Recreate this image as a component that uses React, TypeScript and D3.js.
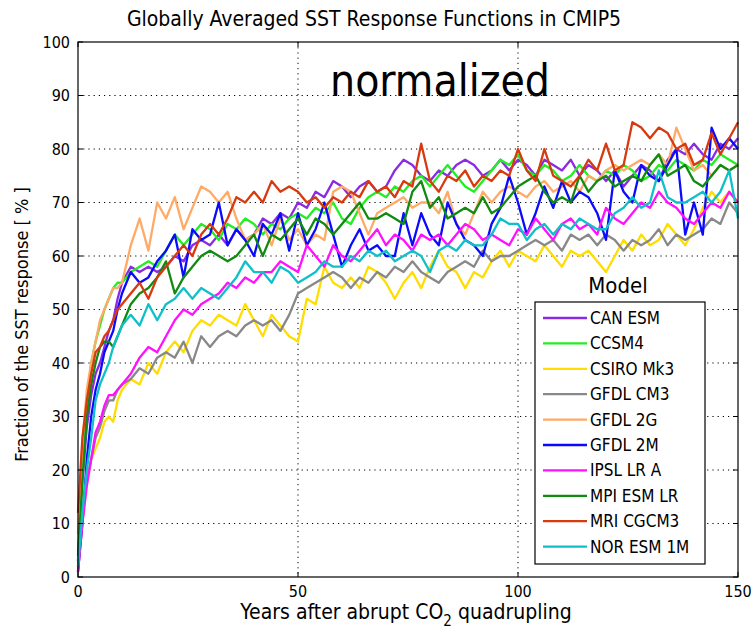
import React from "react";
import * as d3 from "d3";

const years: number[] = [0,1,2,3,4,5,6,7,8,9,10,12,14,16,18,20,22,24,26,28,30,32,34,36,38,40,42,44,46,48,50,52,54,56,58,60,62,64,66,68,70,72,74,76,78,80,82,84,86,88,90,92,94,96,98,100,102,104,106,108,110,112,114,116,118,120,122,124,126,128,130,132,134,136,138,140,142,144,146,148,150];

const models: string[] = ["CAN ESM","CCSM4","CSIRO Mk3","GFDL CM3","GFDL 2G","GFDL 2M","IPSL LR A","MPI ESM LR","MRI CGCM3","NOR ESM 1M"];
const colors: string[] = ["#8a2be2","#22ee22","#ffdd00","#888888","#ffaa66","#0a0aff","#ff10ff","#108a10","#d83a10","#10c0c8"];

const canEsm = [3,18,28,34,38,40,43,46,48,52,55,58,57,58,57,58,60,59,62,63,62,64,62,65,63,64,67,66,68,67,70,69,72,71,74,73,71,73,74,72,73,76,78,77,75,74,76,75,77,78,77,75,76,78,76,78,77,75,78,77,76,78,75,77,76,74,76,73,75,77,76,74,78,80,79,81,79,78,81,80,82];
const ccsm4 = [3,20,32,40,44,47,50,52,54,55,55,57,58,59,58,61,64,62,64,66,65,63,66,65,67,66,64,66,65,67,68,67,69,68,70,67,66,69,71,72,71,73,72,74,75,73,75,77,75,73,72,74,76,78,77,79,76,75,77,76,74,75,77,75,74,76,75,77,76,74,75,77,76,78,77,76,78,77,79,78,77];
const csiroMk3 = [2,10,18,22,24,26,29,30,29,33,35,37,36,40,38,42,44,42,46,48,47,49,48,47,51,48,45,49,47,45,44,52,51,58,55,54,56,54,58,57,55,52,55,57,54,58,61,58,57,54,57,56,59,61,58,61,60,59,62,60,58,61,60,61,59,57,60,63,61,64,62,63,66,64,62,65,69,72,70,72,70];
const gfdlCm3 = [1,12,18,22,26,28,31,33,33,35,36,37,39,38,41,42,41,44,40,45,43,45,46,45,47,48,47,48,46,49,53,54,55,56,57,56,54,56,55,57,56,58,57,59,57,56,55,57,58,59,58,61,59,60,60,61,62,63,62,63,61,64,63,64,62,64,63,61,63,62,63,65,62,64,63,64,65,67,66,70,68];
const gfdl2g = [8,25,35,40,44,48,50,52,54,54,55,62,67,61,70,67,71,65,69,73,72,70,72,67,63,64,66,62,67,63,65,62,64,63,72,73,72,68,64,68,69,70,71,69,70,70,68,72,66,64,68,72,70,72,73,72,71,73,74,72,73,74,72,75,74,76,77,76,77,78,77,79,77,84,80,76,77,75,77,76,77];
const gfdl2m = [1,10,22,30,35,38,42,44,46,50,53,57,55,56,59,61,64,56,65,63,64,70,62,65,63,60,66,64,68,61,68,62,65,70,64,58,62,65,61,62,60,60,68,62,68,64,62,70,66,63,62,60,66,69,75,70,64,68,73,69,74,70,72,71,68,63,76,72,70,77,75,74,77,80,64,70,64,84,80,82,80];
const ipslLrA = [1,10,17,22,27,29,32,34,34,35,36,38,41,43,42,45,48,50,49,51,52,53,55,54,56,55,57,57,59,58,57,62,60,58,62,60,59,61,63,65,62,64,63,61,64,63,64,62,64,66,65,63,64,63,62,65,64,67,65,63,66,67,65,66,64,69,67,66,68,70,69,72,70,69,67,66,68,70,69,72,70];
const mpiEsmLr = [4,18,30,36,40,43,44,44,43,45,47,51,53,54,56,59,53,56,58,60,61,60,59,60,62,64,60,64,63,65,67,64,67,66,64,66,68,70,67,67,68,67,66,72,74,69,71,67,68,69,68,71,68,69,71,73,74,75,72,70,71,70,75,72,74,75,73,74,75,74,77,79,75,76,77,74,73,75,77,76,77];
const mriCgcm3 = [12,26,33,38,42,43,45,46,48,50,51,53,55,52,56,58,60,62,60,64,66,64,67,71,70,72,70,74,72,73,72,70,71,69,71,70,72,71,74,72,73,71,74,73,81,74,72,75,74,76,73,75,74,76,75,80,76,74,80,75,74,73,75,78,76,81,76,77,85,84,82,84,83,80,81,77,78,83,79,82,85];
const norEsm1m = [2,12,20,26,33,36,38,40,43,45,47,49,47,51,48,51,52,54,52,54,53,52,54,56,59,57,57,55,58,57,55,56,57,59,58,58,60,59,61,60,61,59,60,61,60,57,61,62,61,63,62,62,64,67,66,66,63,65,66,64,66,65,67,66,65,65,68,69,71,69,70,76,71,70,70,71,72,70,72,76,67];

const seriesValues: number[][] = [canEsm, ccsm4, csiroMk3, gfdlCm3, gfdl2g, gfdl2m, ipslLrA, mpiEsmLr, mriCgcm3, norEsm1m];

const yTicks: number[] = [0,10,20,30,40,50,60,70,80,90,100];
const xTicks: number[] = [0,50,100,150];

const W = 753, H = 634;
const m = { left: 78, right: 738, top: 42, bottom: 577 };
const FONT = "'DejaVu Sans Condensed', 'DejaVu Sans', sans-serif";

export default function App() {
  const x = d3.scaleLinear().domain([0, 150]).range([m.left, m.right]);
  const y = d3.scaleLinear().domain([0, 100]).range([m.bottom, m.top]);
  const line = d3.line<number>().x((_, i) => x(years[i])).y((v) => y(v));

  const lgX = 535, lgY = 302, lgW = 170, lgH = 262;
  const rowY = (i: number) => 318 + i * 25.4;

  return (
    <svg width={W} height={H} style={{ position: "absolute", left: 0, top: 0, background: "#fff" }} fontFamily={FONT}>
      <rect x={0} y={0} width={W} height={H} fill="#fff" />
      {yTicks.filter(t => t > 0 && t < 100).map(t => (
        <line key={"gy" + t} x1={m.left} x2={m.right} y1={y(t)} y2={y(t)} stroke="#000" strokeWidth={1} strokeDasharray="1.2,4" />
      ))}
      {xTicks.filter(t => t > 0 && t < 150).map(t => (
        <line key={"gx" + t} x1={x(t)} x2={x(t)} y1={m.top} y2={m.bottom} stroke="#000" strokeWidth={1} strokeDasharray="1.2,4" />
      ))}
      {seriesValues.map((vals, i) => (
        <path key={models[i]} d={line(vals) || ""} fill="none" stroke={colors[i]} strokeWidth={2.3} strokeLinejoin="round" />
      ))}
      <rect x={m.left} y={m.top} width={m.right - m.left} height={m.bottom - m.top} fill="none" stroke="#000" strokeWidth={1.2} />
      {yTicks.map(t => (
        <g key={"ty" + t}>
          <line x1={m.left} x2={m.left + 5} y1={y(t)} y2={y(t)} stroke="#000" />
          <line x1={m.right - 5} x2={m.right} y1={y(t)} y2={y(t)} stroke="#000" />
          <text x={m.left - 8} y={y(t)} textAnchor="end" dominantBaseline="central" fontSize={16}>{t}</text>
        </g>
      ))}
      {xTicks.map(t => (
        <g key={"tx" + t}>
          <line x1={x(t)} x2={x(t)} y1={m.bottom} y2={m.bottom - 5} stroke="#000" />
          <line x1={x(t)} x2={x(t)} y1={m.top} y2={m.top + 5} stroke="#000" />
          <text x={x(t)} y={m.bottom + 20} textAnchor="middle" fontSize={16}>{t}</text>
        </g>
      ))}
      <text x={374} y={26} textAnchor="middle" fontSize={21}>Globally Averaged SST Response Functions in CMIP5</text>
      <text x={440} y={96} textAnchor="middle" fontSize={44}>normalized</text>
      <text x={406} y={619} textAnchor="middle" fontSize={21}>
        Years after abrupt CO<tspan fontSize={15} dy={7}>2</tspan><tspan dy={-7}> quadrupling</tspan>
      </text>
      <text transform={`translate(28,${(m.top + m.bottom) / 2 + 15}) rotate(-90)`} textAnchor="middle" fontSize={18}>
        Fraction of the SST response  [ % ]
      </text>
      <text x={618} y={293} textAnchor="middle" fontSize={22}>Model</text>
      <rect x={lgX} y={lgY} width={lgW} height={lgH} fill="#fff" stroke="#000" strokeWidth={1.2} />
      {models.map((name, i) => (
        <g key={"lg" + name}>
          <line x1={543} x2={587} y1={rowY(i)} y2={rowY(i)} stroke={colors[i]} strokeWidth={2.3} />
          <text x={590} y={rowY(i)} dominantBaseline="central" fontSize={17}>{name}</text>
        </g>
      ))}
    </svg>
  );
}
